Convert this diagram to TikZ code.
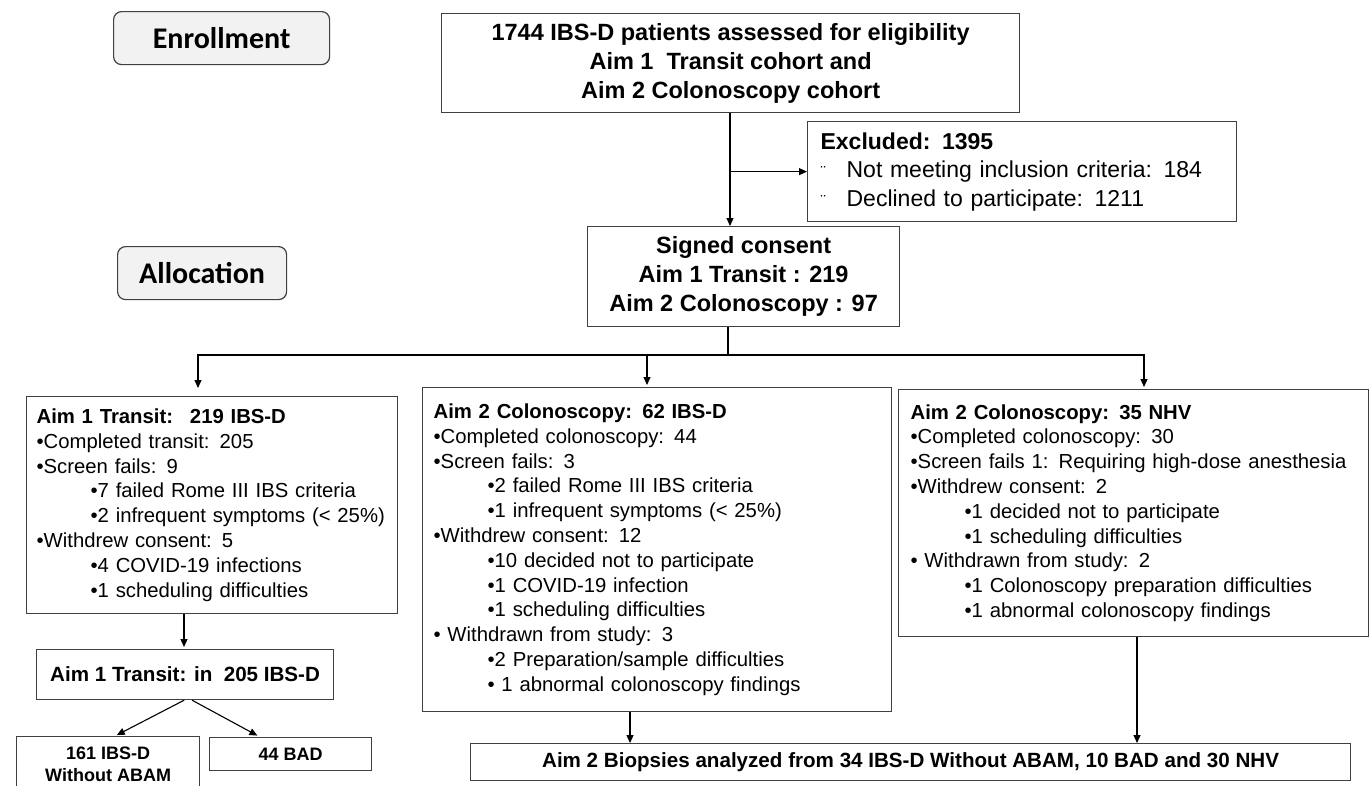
\documentclass[tikz,border=0pt]{standalone}
\usepackage{fontspec}
\setmainfont{Liberation Sans}
\newfontfamily\calfont{Carlito}
\usetikzlibrary{arrows.meta}
\definecolor{boxgray}{HTML}{404040}
\definecolor{lblfill}{HTML}{F2F2F2}
\begin{document}
\begin{tikzpicture}[x=1pt,y=-1pt,
  box/.style={draw=boxgray, line width=1.2pt, inner ysep=0pt, anchor=north west},
  lbl/.style={box, rounded corners=8pt, fill=lblfill, font=\calfont\bfseries\fontsize{30}{32}\selectfont, align=center},
  body/.style={box, align=left, font=\fontsize{20.3}{24.8}\selectfont},
  head/.style={box, align=center, font=\bfseries\fontsize{23.5}{29}\selectfont},
  headsm/.style={box, align=center, font=\bfseries\fontsize{20.6}{29}\selectfont},
  small/.style={box, align=center, font=\bfseries\fontsize{18}{22}\selectfont},
  arr/.style={-{Triangle[length=8pt,width=7pt]}, line width=1.1pt},
  conn/.style={line width=1.1pt}]
\useasboundingbox (0,0) rectangle (1372,785);
\clip (0,0) rectangle (1372,785);
\newcommand{\ind}{\hspace*{54pt}}
\newcommand{\exbul}{\makebox[26pt][l]{\fontsize{16}{16}\selectfont ¨}}
% stage labels
\node[lbl, minimum width=216pt, minimum height=53pt] (enr) at (113,11) {Enrollment};
\node[lbl, minimum width=169pt, minimum height=53pt] (alloc) at (117,246) {Allocation};
% top
\node[head, minimum width=578pt, minimum height=99pt] (top) at (441,13)
  {1744 IBS-D patients assessed for eligibility\\Aim 1~ Transit cohort and\\Aim 2 Colonoscopy cohort};
\node[box, align=left, inner xsep=13pt, text width=403pt, minimum height=100pt,
  font=\fontsize{23}{28.5}\selectfont] (exc) at (807,121)
  {\textbf{Excluded: 1395}\\
   \exbul Not meeting inclusion criteria: 184\\
   \exbul Declined to participate: 1211};
\node[head, minimum width=312pt, minimum height=100pt] (sc) at (587,226)
  {Signed consent\\Aim 1 Transit : 219\\Aim 2 Colonoscopy : 97};
% three arms
\node[body, inner xsep=10pt, text width=351pt, minimum height=217pt] (l1) at (26,396)
  {\textbf{Aim 1 Transit:~ 219 IBS-D}\\
   •Completed transit: 205\\
   •Screen fails: 9\\
   \ind•7 failed Rome III IBS criteria\\
   \ind•2 infrequent symptoms (< 25\%)\\
   •Withdrew consent: 5\\
   \ind•4 COVID-19 infections\\
   \ind•1 scheduling difficulties};
\node[body, inner xsep=11pt, text width=447pt, minimum height=324pt] (m1) at (422,387)
  {\textbf{Aim 2 Colonoscopy: 62 IBS-D}\\
   •Completed colonoscopy: 44\\
   •Screen fails: 3\\
   \ind•2 failed Rome III IBS criteria\\
   \ind•1 infrequent symptoms (< 25\%)\\
   •Withdrew consent: 12\\
   \ind•10 decided not to participate\\
   \ind•1 COVID-19 infection\\
   \ind•1 scheduling difficulties\\
   • Withdrawn from study: 3\\
   \ind•2 Preparation/sample difficulties\\
   \ind• 1 abnormal colonoscopy findings};
\node[body, inner xsep=12pt, text width=446pt, minimum height=247pt] (r1) at (898,389)
  {\textbf{Aim 2 Colonoscopy: 35 NHV}\\
   •Completed colonoscopy: 30\\
   •Screen fails 1: Requiring high-dose anesthesia\\
   •Withdrew consent: 2\\
   \ind•1 decided not to participate\\
   \ind•1 scheduling difficulties\\
   • Withdrawn from study: 2\\
   \ind•1 Colonoscopy preparation difficulties\\
   \ind•1 abnormal colonoscopy findings};
% lower boxes
\node[headsm, minimum width=297pt, minimum height=50pt] (l2) at (36,649) {Aim 1 Transit: in~ 205 IBS-D};
\node[small, minimum width=183pt, minimum height=55pt] (l3) at (16,736) {161 IBS-D\\Without ABAM};
\node[small, minimum width=162pt, minimum height=33pt] (l4) at (209,737) {44 BAD};
\node[headsm, minimum width=880pt, minimum height=37pt] (bot) at (470,743)
  {Aim 2 Biopsies analyzed from 34 IBS-D Without ABAM, 10 BAD and 30 NHV};
% x positions of connectors
\coordinate (xT) at (730,0);
\coordinate (split) at (728,355);
\coordinate (xL) at (198,0);
\coordinate (xM) at (647,0);
\coordinate (xR) at (1144,0);
\coordinate (xLb) at (184,0);
\coordinate (xMb) at (630,0);
\coordinate (xRb) at (1137,0);
\coordinate (xD1) at (115,0);
\coordinate (xD2) at (260,0);
% connectors
\draw[arr] (top.south -| xT) -- (sc.north -| xT);
\draw[arr] (exc.west -| xT) -- (exc.west);
\draw[conn] (sc.south -| split) -- (split);
\draw[arr, shorten >=8pt] (split) -| (l1.north -| xL);
\draw[arr, shorten >=2pt] (split) -| (r1.north -| xR);
\draw[arr, shorten >=2pt] (split -| xM) -- (m1.north -| xM);
\draw[arr, shorten >=2pt] (l1.south -| xLb) -- (l2.north -| xLb);
\draw[arr, shorten >=2pt] ([xshift=-1pt]l2.south) -- (l3.north -| xD1);
\draw[arr, shorten >=3pt] ([xshift=7pt]l2.south) -- (l4.north -| xD2);
\draw[arr] (m1.south -| xMb) -- (bot.north -| xMb);
\draw[arr] (r1.south -| xRb) -- (bot.north -| xRb);
\end{tikzpicture}
\end{document}
